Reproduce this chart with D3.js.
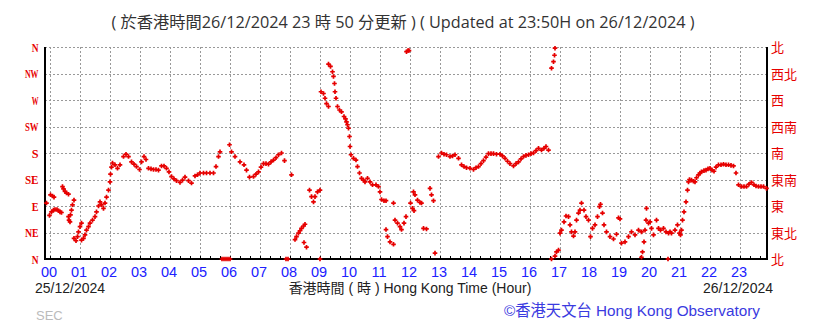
<!doctype html>
<html lang="zh-HK">
<head>
<meta charset="utf-8">
<title>Wind direction</title>
<script src="https://cdnjs.cloudflare.com/ajax/libs/d3/7.8.5/d3.min.js"></script>
<style>
  body { margin: 0; background: #fff; }
  svg { display: block; }
</style>
</head>
<body>
<svg id="svg" width="819" height="323"></svg>
<script>
// wind direction (degrees) against minutes after 00:00 HKT
var obsNight = [
  [-7,95],[-1,74],[1,109],[5,107],[8,105],
  [3,80],[7,83],[10,84],[14,84],[17,82],[20,80],[23,79],
  [25,123],[27,119],[30,115],[33,112],[37,110],
  [37,72],[38,66],[40,63],[41,75],[43,83],[45,92],[48,100],
  [48,35],[52,31],[55,38],[57,46],[60,55],[63,61],
  [63,32],[67,35],[70,41],[73,49],[77,55],[80,61],[85,66],[90,72],[93,80],[97,90],[100,97],[103,92],[107,86],[110,95],[113,105],[117,117],[120,131],[121,144],[123,156],[125,163],
  [130,160],[135,154],[140,160],[147,174],[152,178],[157,174],[163,165],[168,161],[173,157],[179,152],[183,165],[188,174],[192,169],[197,154],[202,153],[207,152],[212,152],[217,151],[223,158],[228,158],[233,154],[238,148],[243,140],[248,136],[253,133],[260,130],[265,134],[270,139],[277,133],[283,129],[290,141],[295,143],[300,146],[307,146],[313,146],[320,146],[327,146],[332,157],[337,174],[340,182],
  [344,0],[348,0],[352,0],[356,0]
];
var obsMorning = [
  [360,0],
  [359,194],[363,182],[370,174],[380,165],[388,160],[393,151],[399,139],[407,140],[412,144],[417,148],[422,156],[427,162],[432,162],[437,161],[442,165],[447,168],[452,172],[457,177],[463,180],[469,167],
  [472,0],[476,0],[483,143],
  [490,33],[493,38],[497,44],[500,48],[503,52],[507,56],[510,59],[508,28],[513,20],
  [519,117],[523,106],[527,97],[530,106],[535,114],[540,117],[540,0],
  [542,284],[547,281],[550,273],[553,264],[557,259],
  [557,331],[561,327],[565,318],[567,310],[569,298],[570,284],[572,273],[575,259],[579,253],[583,250],[588,242],[591,238],[593,233],[595,228],[597,222],[599,208],[600,191],[602,177],[607,171],[612,168],[615,157],[619,146],[623,137],[627,134],[630,131],[635,137],[640,131],[645,126],[652,126],[657,123],[660,114],[663,101],[668,99],[672,99],
  [687,95],
  [672,50],[675,38],[680,29],[687,25],
  [690,66],[695,61],[700,55],[703,50],[708,61],[712,72],
  [713,352],[716,354],[718,354]
];
var obsAfternoon = [
  [721,95],[725,86],[728,82],
  [727,114],[730,109],[735,100],[740,96],[743,95],
  [747,52],[753,51],
  [760,120],[763,109],[767,99],
  [770,10],
  [777,174],[783,180],[788,178],[793,177],[800,174],[805,175],[810,177],[817,171],[823,160],[828,157],[833,155],[840,154],[847,152],[852,155],[857,157],[862,162],[867,167],[872,173],[877,179],[882,179],[887,179],[893,178],[900,178],[905,175],[910,171],[915,166],[920,162],[927,158],[932,162],[937,165],[942,170],[947,174],[952,176],[957,177],[962,179],[967,180],[972,184],[977,188],[983,185],[988,188],[992,191],[997,185],
  [1003,0],
  [1003,324],[1007,335],[1009,346],[1010,358],
  [1010,5],[1013,12],[1017,15],
  [1020,44],[1023,49],[1028,63],[1032,73],[1037,72],[1040,58],[1043,46],[1047,39],[1050,46],[1053,66],[1057,78],[1060,83],[1063,95],[1068,83],[1072,72],[1077,66]
];
var obsEvening = [
  [1081,38],[1085,52],[1090,58],[1095,72],[1099,89],[1101,93],[1105,78],[1108,58],[1113,46],[1120,38],[1127,34],[1133,42],[1137,70],[1140,68],
  [1143,27],[1150,29],[1157,38],[1163,46],[1170,41],[1177,49],[1183,46],[1190,49],[1197,61],[1200,63],[1203,52],[1207,41],
  [1193,86],[1192,66],[1188,29],[1185,12],[1183,3],
  [1213,66],[1217,52],[1221,49],[1227,52],[1232,46],[1237,44],[1240,46],[1243,44],[1250,49],[1255,58],[1259,44],[1261,41],
  [1236,0],
  [1263,49],[1265,66],[1268,80],[1272,97],[1275,117],[1277,131],[1279,135],[1283,134],[1287,132],[1290,131],[1293,138],[1297,143],[1300,146],[1303,148],[1308,150],[1312,151],[1316,153],[1320,154],[1324,151],[1328,149],[1332,156],[1337,160],[1342,160],[1347,161],[1352,160],[1357,160],[1362,159],[1367,158],[1372,146],[1377,126],[1383,123],[1388,123],[1393,123],[1398,127],[1403,130],[1408,126],[1412,124],[1417,123],[1422,123],[1427,123],[1433,120]
];

var dirDegrees = [0, 45, 90, 135, 180, 225, 270, 315, 360];
var dirLabelsEn = ['N', 'NE', 'E', 'SE', 'S', 'SW', 'W', 'NW', 'N'];
var dirLabelsZh = ['北', '東北', '東', '東南', '南', '西南', '西', '西北', '北'];
var hourLabels = ['00','01','02','03','04','05','06','07','08','09','10','11','12','13','14','15','16','17','18','19','20','21','22','23'];

var titleText = '( 於香港時間26/12/2024 23 時 50 分更新 ) ( Updated at 23:50H on 26/12/2024 )';
var startDate = '25/12/2024', endDate = '26/12/2024';
var axisTitle = '香港時間 ( 時 ) Hong Kong Time (Hour)';
var credit = '©香港天文台 Hong Kong Observatory';

var plotL = 45, plotR = 767, plotT = 47, plotB = 259;
var red = '#e60000';

var x = d3.scaleLinear().domain([-10, 1434]).range([plotL, plotR]);
var y = d3.scaleLinear().domain([0, 360]).range([plotB, plotT]);

var svg = d3.select('#svg');
var sans = 'Arial, "Liberation Sans", "Noto Sans CJK TC", sans-serif';
var cjk = '"Noto Sans CJK TC", "Noto Sans CJK SC", sans-serif';

svg.append('text')
  .attr('x', 403).attr('y', 28)
  .attr('text-anchor', 'middle')
  .attr('font-family', '"Open Sans", "Noto Sans CJK TC", sans-serif')
  .attr('font-size', 16)
  .attr('textLength', 583)
  .attr('lengthAdjust', 'spacingAndGlyphs')
  .attr('fill', '#333')
  .text(titleText);

// grid
var grid = svg.append('g').attr('stroke', '#999').attr('stroke-dasharray', '2,2').attr('stroke-width', 1);
grid.selectAll('line.h').data(dirDegrees).enter().append('line')
  .attr('x1', plotL).attr('x2', plotR)
  .attr('y1', function(d) { return Math.round(y(d)) + 0.5; })
  .attr('y2', function(d) { return Math.round(y(d)) + 0.5; });
grid.selectAll('line.v').data(hourLabels).enter().append('line')
  .attr('x1', function(d, i) { return Math.round(x(i * 60)) + 0.5; })
  .attr('x2', function(d, i) { return Math.round(x(i * 60)) + 0.5; })
  .attr('y1', plotT).attr('y2', plotB);

// frame: left, right and bottom in black
svg.append('path')
  .attr('d', 'M' + plotL + ',' + plotT + 'V' + plotB + 'H' + plotR + 'V' + plotT)
  .attr('fill', 'none').attr('stroke', '#000').attr('stroke-width', 2);

// bottom ticks every 20 minutes
var xAxis = d3.axisBottom(x)
  .tickValues(d3.range(0, 1434, 20))
  .tickSize(-3).tickFormat('');
var gx = svg.append('g').attr('transform', 'translate(0,' + plotB + ')').call(xAxis);
gx.select('.domain').remove();
gx.selectAll('line').attr('stroke', '#000');

svg.append('g').selectAll('text').data(hourLabels).enter().append('text')
  .attr('x', function(d, i) { return x(i * 60) - 1; })
  .attr('y', 277)
  .attr('text-anchor', 'middle')
  .attr('font-family', sans)
  .attr('font-size', 14.5)
  .attr('fill', '#2020ff')
  .text(function(d) { return d; });

// direction labels
svg.append('g').selectAll('text').data(dirLabelsEn).enter().append('text')
  .attr('x', 38.5)
  .attr('y', function(d, i) { return y(dirDegrees[i]) + 4.5; })
  .attr('text-anchor', 'end')
  .attr('font-family', '"Liberation Serif", "DejaVu Serif", serif')
  .attr('font-weight', 'bold')
  .attr('font-size', 13)
  .attr('textLength', function(d) { return d.length * 6.8; })
  .attr('lengthAdjust', 'spacingAndGlyphs')
  .attr('fill', red)
  .text(function(d) { return d; });

svg.append('g').selectAll('text').data(dirLabelsZh).enter().append('text')
  .attr('x', 771)
  .attr('y', function(d, i) { return y(dirDegrees[i]) + 5; })
  .attr('font-family', cjk)
  .attr('font-size', 13)
  .attr('fill', red)
  .text(function(d) { return d; });

// observations
var allObs = obsNight.concat(obsMorning, obsAfternoon, obsEvening);
svg.append('g').selectAll('path').data(allObs).enter().append('path')
  .attr('transform', function(d) { return 'translate(' + x(d[0]) + ',' + y(d[1]) + ')'; })
  .attr('d', 'M-2.3,0H2.3M0,-2.3V2.3')
  .attr('stroke', red).attr('stroke-width', 1.7).attr('fill', 'none');

// footer text
svg.append('text').attr('x', 35).attr('y', 293)
  .attr('font-family', sans).attr('font-size', 14).attr('fill', '#222')
  .text(startDate);
svg.append('text').attr('x', 410).attr('y', 293).attr('text-anchor', 'middle')
  .attr('font-family', sans).attr('font-size', 14).attr('fill', '#222')
  .text(axisTitle);
svg.append('text').attr('x', 773).attr('y', 293).attr('text-anchor', 'end')
  .attr('font-family', sans).attr('font-size', 14).attr('fill', '#222')
  .text(endDate);
svg.append('text').attr('x', 760).attr('y', 316).attr('text-anchor', 'end')
  .attr('font-family', sans).attr('font-size', 15.5)
  .attr('textLength', 256).attr('lengthAdjust', 'spacingAndGlyphs')
  .attr('fill', '#3a3ae0')
  .text(credit);
svg.append('text').attr('x', 36).attr('y', 320)
  .attr('font-family', sans).attr('font-size', 13).attr('fill', '#bbb')
  .text('SEC');
</script>
</body>
</html>
